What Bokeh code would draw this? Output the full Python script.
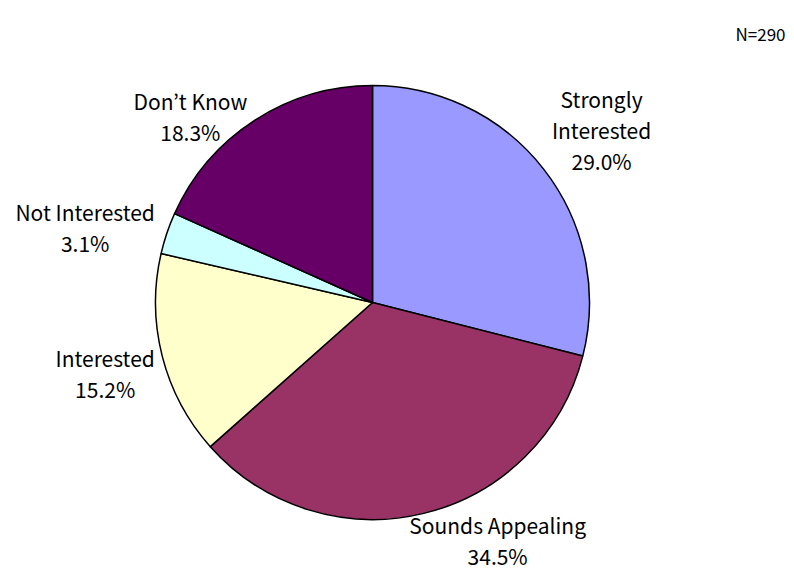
import math
from bokeh.plotting import figure
from bokeh.models import Range1d, ColumnDataSource, Label
from bokeh.core.properties import value
from bokeh.embed import file_html
from bokeh.resources import INLINE

# ---- data ----
categories = ["Strongly\nInterested", "Sounds Appealing", "Interested", "Not Interested", "Don\u2019t Know"]
percents = [29.0, 34.5, 15.2, 3.1, 18.3]
colors = ["#9999FF", "#993366", "#FFFFCC", "#CCFFFF", "#660066"]
sample_label = "N=290"

# ---- layout / style ----
W, H = 794, 575
CX, CY, R = 372, 273, 217
LABEL_R = 280
FONT = "Noto Sans CJK JP"
# small placement nudges (pixels; x right, y up) mimicking the original label layout
label_nudge = [(8, 1), (59, 34), (4, -2), (-22, -14), (-30, -49)]

total = sum(percents)
starts, ends, lx, ly, texts = [], [], [], [], []
acc = 0.0
for i, v in enumerate(percents):
    a0 = math.pi / 2 - 2 * math.pi * acc / total
    a1 = math.pi / 2 - 2 * math.pi * (acc + v) / total
    starts.append(a0)
    ends.append(a1)
    mid = (a0 + a1) / 2
    lx.append(CX + LABEL_R * math.cos(mid) + label_nudge[i][0])
    ly.append(CY + LABEL_R * math.sin(mid) + label_nudge[i][1])
    texts.append(f"{categories[i]}\n{v:.1f}%")
    acc += v

src = ColumnDataSource(dict(start=starts, end=ends, color=colors))
lsrc = ColumnDataSource(dict(x=lx, y=ly, text=texts))

p = figure(width=W, height=H, x_range=Range1d(0, W), y_range=Range1d(0, H),
           output_backend="svg", toolbar_location=None, min_border=0)
p.axis.visible = False
p.grid.visible = False
p.outline_line_color = None
p.background_fill_color = "white"

p.wedge(x=CX, y=CY, radius=R, start_angle="start", end_angle="end", direction="clock",
        fill_color="color", line_color="black", line_width=1.5, source=src)

p.text(x="x", y="y", text="text", source=lsrc, text_font=value(FONT), text_font_size="21px",
       text_align="center", text_baseline="middle", text_line_height=1.03, text_color="black")

p.add_layout(Label(x=785, y=542, text=sample_label, text_font=FONT, text_font_size="17px",
                   text_align="right", text_baseline="middle", text_color="black"))

open("out.html", "w").write(file_html(p, INLINE))
